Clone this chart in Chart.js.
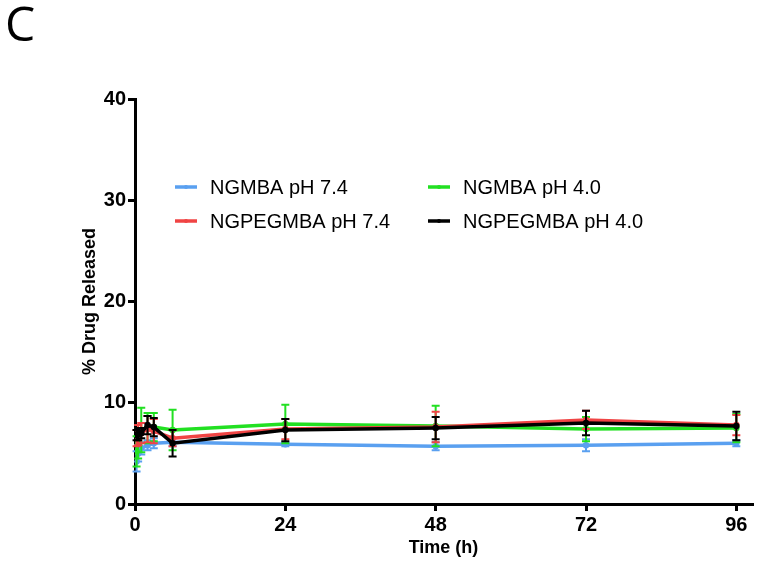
<!DOCTYPE html>
<html>
<head>
<meta charset="utf-8">
<script src="https://cdn.jsdelivr.net/npm/chart.js@4.4.1/dist/chart.umd.min.js"></script>
<style>
    html, body { margin: 0; padding: 0; background: #fff; }
    #wrap { position: relative; width: 763px; height: 569px; }
    #panel-label {
        position: absolute; left: 5px; top: -10px;
        font-family: "Open Sans", "DejaVu Sans", sans-serif; font-size: 48px; color: #000;
    }
</style>
</head>
<body>
<div id="wrap">
    <canvas id="releaseChart" width="763" height="569"></canvas>
    <div id="panel-label">C</div>
</div>
<script>
// Sampling times (h)
const timePoints = [0.25, 0.5, 1, 2, 3, 6, 24, 48, 72, 96];
const xTicks = [0, 24, 48, 72, 96];

// % drug released, mean and error
const ngmba74 = [4.2, 5.0, 5.5, 5.8, 6.0, 6.1, 5.9, 5.7, 5.8, 6.0];
const ngmba74Err = [1.0, 0.8, 0.6, 0.5, 0.5, 0.4, 0.2, 0.4, 0.6, 0.3];
const ngmba40 = [5.2, 6.0, 7.3, 7.5, 7.6, 7.3, 7.9, 7.7, 7.4, 7.5];
const ngmba40Err = [1.5, 1.5, 2.2, 1.5, 1.4, 2.0, 1.9, 2.0, 1.2, 1.4];
const ngpeg74 = [6.5, 6.8, 7.0, 7.4, 7.2, 6.5, 7.4, 7.6, 8.3, 7.8];
const ngpeg74Err = [0.8, 1.0, 1.0, 1.3, 1.2, 0.8, 1.0, 1.5, 0.9, 1.0];
const ngpeg40 = [6.8, 6.9, 7.0, 7.8, 7.6, 6.0, 7.3, 7.5, 8.0, 7.7];
const ngpeg40Err = [0.5, 0.6, 0.5, 0.9, 0.9, 1.3, 1.1, 1.1, 1.2, 1.4];

// lower "order" is drawn on top
function series(label, values, errors, color, order) {
    return {
        label: label,
        data: timePoints.map((t, i) => ({ x: t, y: values[i] })),
        errors: errors,
        borderColor: color,
        backgroundColor: color,
        borderWidth: 3.5,
        pointRadius: 1.5,
        pointHoverRadius: 1.5,
        tension: 0,
        order: order
    };
}

const datasets = [
    series('NGMBA pH 7.4', ngmba74, ngmba74Err, '#5aa0f0', 3),
    series('NGMBA pH 4.0', ngmba40, ngmba40Err, '#22e022', 2),
    series('NGPEGMBA pH 7.4', ngpeg74, ngpeg74Err, '#f04444', 1),
    series('NGPEGMBA pH 4.0', ngpeg40, ngpeg40Err, '#000000', 0)
];

// Error bars drawn per dataset so stacking order matches the lines
const errorBars = {
    id: 'errorBars',
    afterDatasetDraw(chart, args) {
        const ds = chart.data.datasets[args.index];
        const xs = chart.scales.x, ys = chart.scales.y;
        const ctx = chart.ctx;
        ctx.save();
        ctx.strokeStyle = ds.borderColor;
        ctx.lineWidth = 2;
        ds.data.forEach((p, i) => {
            const x = xs.getPixelForValue(p.x);
            const top = ys.getPixelForValue(p.y + ds.errors[i]);
            const bot = ys.getPixelForValue(p.y - ds.errors[i]);
            ctx.beginPath();
            ctx.moveTo(x, top); ctx.lineTo(x, bot);
            ctx.moveTo(x - 4, top); ctx.lineTo(x + 4, top);
            ctx.moveTo(x - 4, bot); ctx.lineTo(x + 4, bot);
            ctx.stroke();
        });
        ctx.restore();
    }
};

// Two-column legend inside the plot, like the original figure
const legendPositions = [
    { x: 175, y: 187 }, { x: 428, y: 187 },
    { x: 175, y: 221 }, { x: 428, y: 221 }
];
const legendOrder = [0, 1, 2, 3];
const insideLegend = {
    id: 'insideLegend',
    afterDraw(chart) {
        const ctx = chart.ctx;
        ctx.save();
        ctx.font = '20px "Liberation Sans", Arial, sans-serif';
        ctx.textBaseline = 'middle';
        legendOrder.forEach((di, k) => {
            const ds = chart.data.datasets[di];
            const pos = legendPositions[k];
            ctx.strokeStyle = ds.borderColor;
            ctx.fillStyle = ds.borderColor;
            ctx.lineWidth = 3.5;
            ctx.beginPath();
            ctx.moveTo(pos.x, pos.y); ctx.lineTo(pos.x + 22, pos.y);
            ctx.stroke();
            ctx.beginPath();
            ctx.arc(pos.x + 11, pos.y, 2, 0, Math.PI * 2);
            ctx.fill();
            ctx.fillStyle = '#000';
            ctx.fillText(ds.label, pos.x + 35, pos.y + 1);
        });
        ctx.restore();
    }
};

const axisFont = { family: '"Liberation Sans", Arial, sans-serif', size: 20, weight: 'bold' };
const titleFont = { family: '"Liberation Sans", Arial, sans-serif', size: 18, weight: 'bold' };

new Chart(document.getElementById('releaseChart'), {
    type: 'line',
    data: { datasets: datasets },
    plugins: [errorBars, insideLegend],
    options: {
        responsive: false,
        animation: false,
        layout: { padding: { left: 79, top: 99, right: 11, bottom: 0 } },
        plugins: { legend: { display: false }, tooltip: { enabled: false } },
        scales: {
            x: {
                type: 'linear',
                min: 0,
                max: 98.5,
                afterBuildTicks: (scale) => { scale.ticks = xTicks.map(v => ({ value: v })); },
                afterFit: (scale) => { scale.height = 65; },
                border: { display: true, color: '#000', width: 3 },
                grid: { drawOnChartArea: false, drawTicks: true, tickLength: 7, color: '#000', lineWidth: 3 },
                ticks: { color: '#000', font: axisFont, padding: 2, maxRotation: 0 },
                title: { display: true, text: 'Time (h)', color: '#000', font: titleFont, padding: { top: 0, bottom: 10 } }
            },
            y: {
                min: 0,
                max: 40,
                afterFit: (scale) => { scale.width = 56; },
                border: { display: true, color: '#000', width: 3 },
                grid: { drawOnChartArea: false, drawTicks: true, tickLength: 7, color: '#000', lineWidth: 3 },
                ticks: { color: '#000', font: axisFont, stepSize: 10, padding: 2 },
                title: { display: true, text: '% Drug Released', color: '#000', font: titleFont, padding: { top: 0, bottom: 0 } }
            }
        }
    }
});
</script>
</body>
</html>
